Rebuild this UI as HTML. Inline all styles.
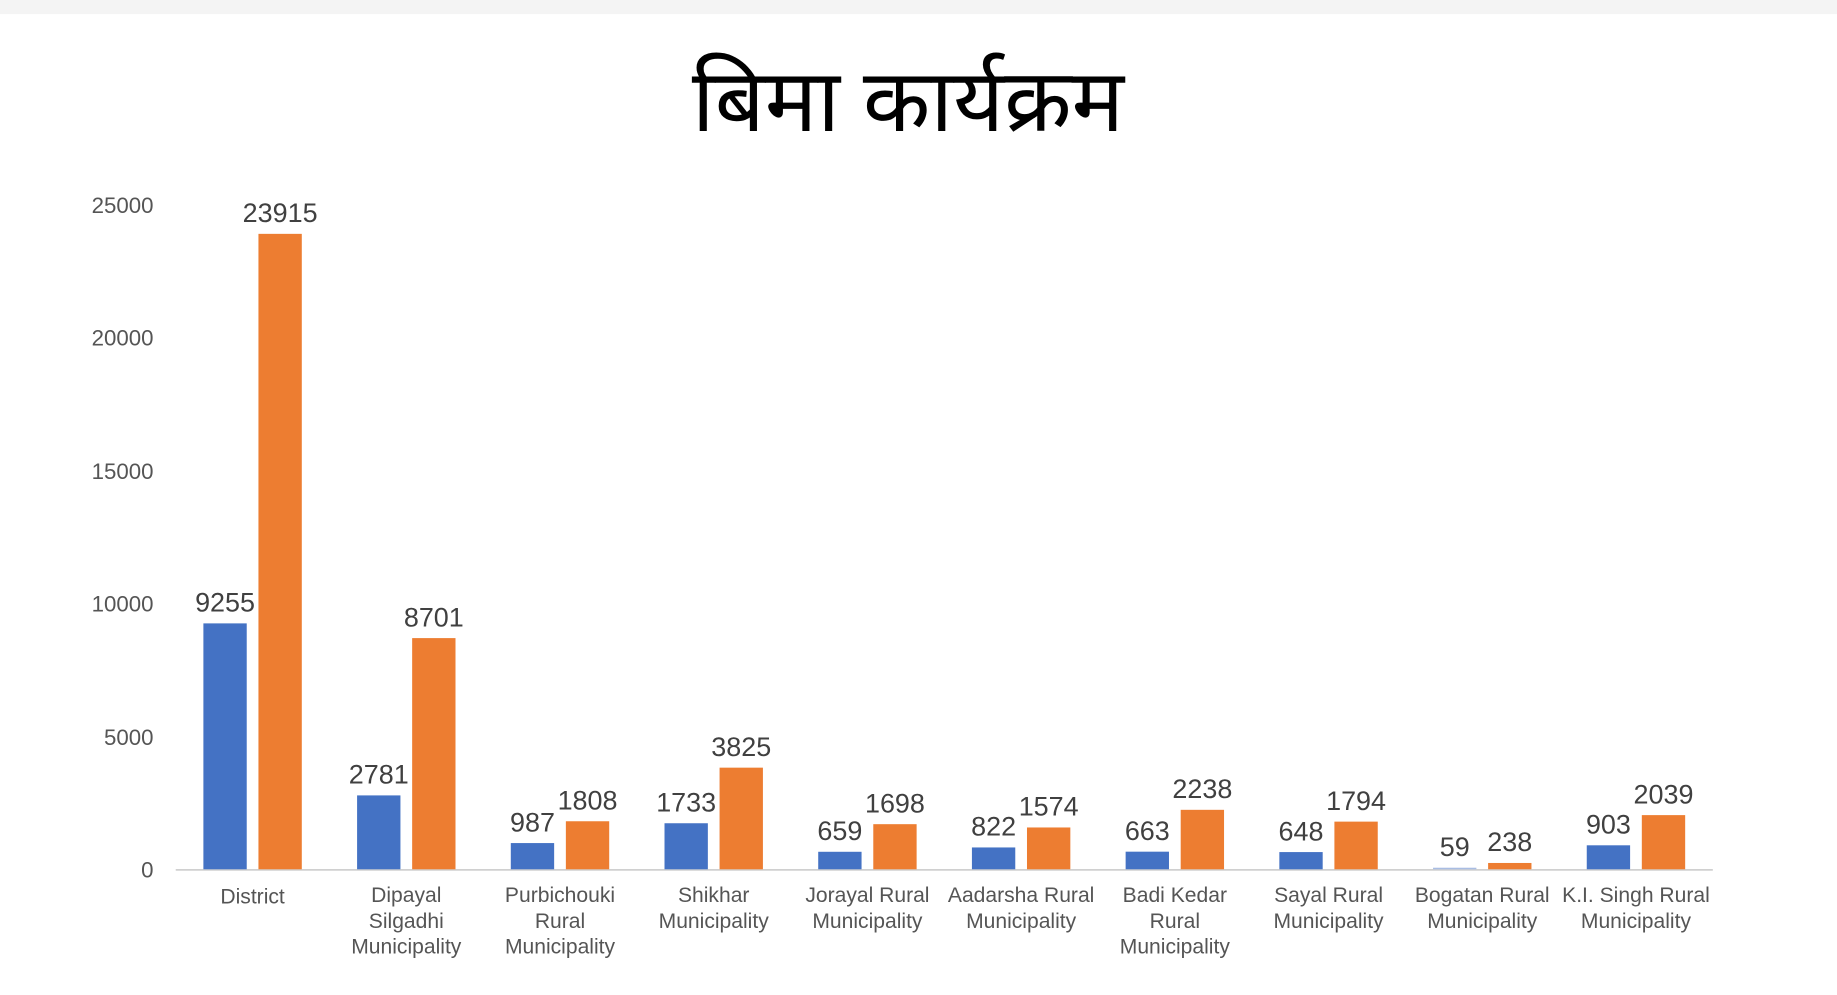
<!DOCTYPE html>
<html><head><meta charset="utf-8"><style>
html,body{margin:0;padding:0;background:#fff;}
svg{display:block;}
</style></head><body>
<svg width="1837" height="995" viewBox="0 0 1568 849.3" preserveAspectRatio="none" xmlns="http://www.w3.org/2000/svg">
<rect x="0" y="0" width="1568" height="12" fill="#f4f4f4"/>
<text x="775" y="112" text-anchor="middle" font-family="'Noto Sans', 'Lohit Devanagari', 'FreeSans', 'Liberation Sans', sans-serif" font-size="75" fill="#000">बिमा कार्यक्रम</text>
<g font-family="'Liberation Sans', sans-serif" font-size="19" fill="#555" text-anchor="end">
<text x="131" y="182">25000</text>
<text x="131" y="295">20000</text>
<text x="131" y="409">15000</text>
<text x="131" y="522">10000</text>
<text x="131" y="636">5000</text>
<text x="131" y="749">0</text>
</g>
<line x1="150" y1="742.5" x2="1462" y2="742.5" stroke="#d0d0d0" stroke-width="1.5"/>
<g id="bars"></g>
<g id="vals" font-family="'Liberation Sans', sans-serif" font-size="23" fill="#404040" text-anchor="middle"></g>
<g id="cats" font-family="'Liberation Sans', sans-serif" font-size="18" fill="#555" text-anchor="middle"></g>
<script>
var data=[[9255,23915,["District"]],[2781,8701,["Dipayal","Silgadhi","Municipality"]],[987,1808,["Purbichouki","Rural","Municipality"]],[1733,3825,["Shikhar","Municipality"]],[659,1698,["Jorayal Rural","Municipality"]],[822,1574,["Aadarsha Rural","Municipality"]],[663,2238,["Badi Kedar","Rural","Municipality"]],[648,1794,["Sayal Rural","Municipality"]],[59,238,["Bogatan Rural","Municipality"]],[903,2039,["K.I. Singh Rural","Municipality"]]];
var ns="http://www.w3.org/2000/svg",b=document.getElementById("bars"),v=document.getElementById("vals"),c=document.getElementById("cats");
function el(p,t,a,txt){var e=document.createElementNS(ns,t);for(var k in a)e.setAttribute(k,a[k]);if(txt!=null)e.textContent=txt;p.appendChild(e);}
var y0=742,s=567/25000;
data.forEach(function(d,i){var cx=150+65.6+131.2*i;
 [[d[0],cx-42,i==8?"#a9bde3":"#4472c4"],[d[1],cx+5,"#ed7d31"]].forEach(function(q){var h=q[0]*s;
  el(b,"rect",{x:q[1],y:y0-h,width:37,height:h,fill:q[2]});
  el(v,"text",{x:q[1]+18.5,y:y0-h-10},String(q[0]));});
 d[2].forEach(function(t,j){el(c,"text",{x:cx,y:(i==0?771:770)+22*j},t);});
});
</script>
</svg>
</body></html>
